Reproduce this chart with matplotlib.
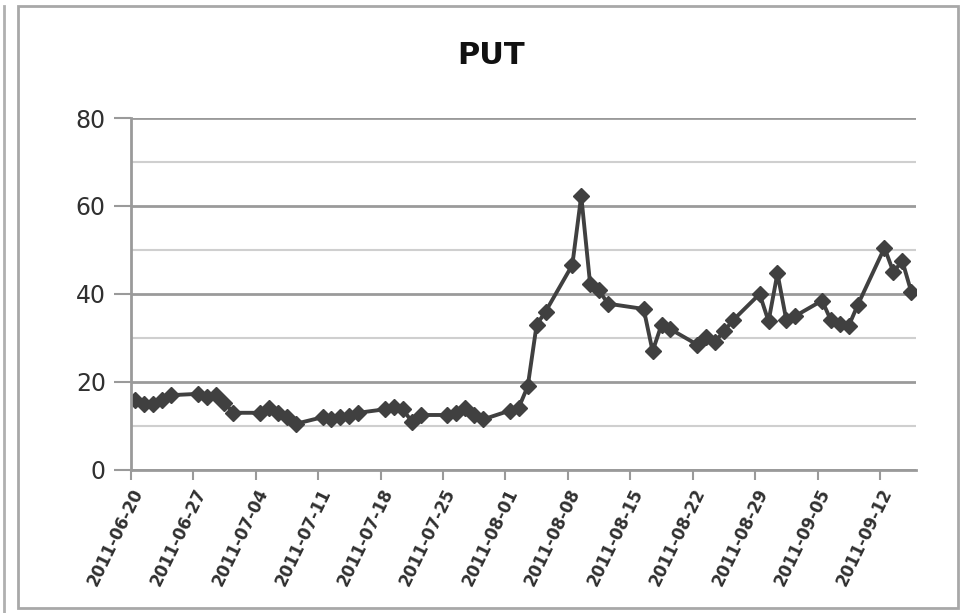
import numpy as np
import pandas as pd
import matplotlib
matplotlib.use('Agg')
import matplotlib.pyplot as plt
import matplotlib.dates as mdates
import matplotlib.transforms as mtransforms
from matplotlib import font_manager

# PUT series
dates = ['2011-06-20', '2011-06-21', '2011-06-22', '2011-06-23', '2011-06-24',
         '2011-06-27', '2011-06-28', '2011-06-29', '2011-06-30', '2011-07-01',
         '2011-07-04', '2011-07-05', '2011-07-06', '2011-07-07', '2011-07-08',
         '2011-07-11', '2011-07-12', '2011-07-13', '2011-07-14', '2011-07-15',
         '2011-07-18', '2011-07-19', '2011-07-20', '2011-07-21', '2011-07-22',
         '2011-07-25', '2011-07-26', '2011-07-27', '2011-07-28', '2011-07-29',
         '2011-08-01', '2011-08-02', '2011-08-03', '2011-08-04', '2011-08-05',
         '2011-08-08', '2011-08-09', '2011-08-10', '2011-08-11', '2011-08-12',
         '2011-08-16', '2011-08-17', '2011-08-18', '2011-08-19',
         '2011-08-22', '2011-08-23', '2011-08-24', '2011-08-25', '2011-08-26',
         '2011-08-29', '2011-08-30', '2011-08-31', '2011-09-01', '2011-09-02',
         '2011-09-05', '2011-09-06', '2011-09-07', '2011-09-08', '2011-09-09',
         '2011-09-12', '2011-09-13', '2011-09-14', '2011-09-15']
put = [16, 15, 15, 16, 17,
       17.3, 16.5, 17, 15.3, 13,
       13, 14, 13, 12, 10.5,
       12, 11.5, 12, 12.3, 13,
       13.8, 14.3, 13.8, 11, 12.5,
       12.5, 13, 14, 12.5, 11.5,
       13.5, 14.2, 19, 33, 36,
       46.6, 62.3, 42.2, 40.8, 37.8,
       36.6, 27, 33, 32,
       28.5, 30.3, 29.2, 31.5, 34,
       40, 33.8, 44.7, 34, 35,
       38.5, 34, 33.2, 32.8, 37.5,
       50.5, 45, 47.5, 40.5]
tick_dates = ['2011-06-20', '2011-06-27', '2011-07-04', '2011-07-11', '2011-07-18',
              '2011-07-25', '2011-08-01', '2011-08-08', '2011-08-15', '2011-08-22',
              '2011-08-29', '2011-09-05', '2011-09-12']

installed = {f.name for f in font_manager.fontManager.ttflist}
fam = 'Liberation Sans Narrow' if 'Liberation Sans Narrow' in installed else 'DejaVu Sans'
plt.rcParams['font.family'] = [fam, 'DejaVu Sans']

fig = plt.figure(figsize=(9.69, 6.13), dpi=100)
ax = fig.add_axes([0.135, 0.2333, 0.81, 0.5742])

# Excel date axis: each point sits in the middle of its day slot
x = pd.to_datetime(dates) + pd.Timedelta(hours=12)
ax.plot(x, put, color='#404040', lw=2.8, marker='D', ms=8, mfc='#404040', mec='#404040')

ax.set_ylim(0, 80)
ax.set_yticks([0, 20, 40, 60, 80])
ax.set_yticks([10, 30, 50, 70], minor=True)
ax.grid(True, axis='y', which='major', color='#9a9a9a', lw=2)
ax.grid(True, axis='y', which='minor', color='#cfcfcf', lw=1.5)
ax.set_axisbelow(True)

ax.set_xlim(pd.Timestamp('2011-06-20'), pd.Timestamp('2011-09-16'))
ax.set_xticks(pd.to_datetime(tick_dates))
ax.xaxis.set_major_formatter(mdates.DateFormatter('%Y-%m-%d'))
shift = mtransforms.ScaledTranslation(0.12, -0.05, fig.dpi_scale_trans)
for lab in ax.get_xticklabels():
    lab.set_rotation(64)
    lab.set_ha('right')
    lab.set_rotation_mode('anchor')
    lab.set_fontsize(12)
    lab.set_fontweight('bold')
    lab.set_color('#303030')
    lab.set_transform(lab.get_transform() + shift)

ax.tick_params(axis='y', which='major', length=12, width=1.5, color='#9a9a9a',
               labelsize=17, labelcolor='#303030', pad=6)
ax.tick_params(axis='y', which='minor', length=0)
ax.tick_params(axis='x', length=7, width=1.5, color='#9a9a9a', pad=4)

for s in ['top', 'right']:
    ax.spines[s].set_visible(False)
ax.spines['left'].set_color('#9a9a9a')
ax.spines['left'].set_linewidth(2)
ax.spines['bottom'].set_color('#9a9a9a')
ax.spines['bottom'].set_linewidth(2)

fig.text(0.507, 0.91, 'PUT', ha='center', va='center', fontsize=22,
         fontweight='bold', color='#111111')

# chart frame and edge of the neighbouring chart
fig.add_artist(plt.Rectangle((0.019, 0.008), 0.97, 0.982, transform=fig.transFigure,
                             fill=False, ec='#a8a8a8', lw=2))
fig.add_artist(plt.Line2D([0.004, 0.004], [0.0, 0.99], transform=fig.transFigure,
                          color='#b0b0b0', lw=2))

fig.savefig('out.png', dpi=100)
